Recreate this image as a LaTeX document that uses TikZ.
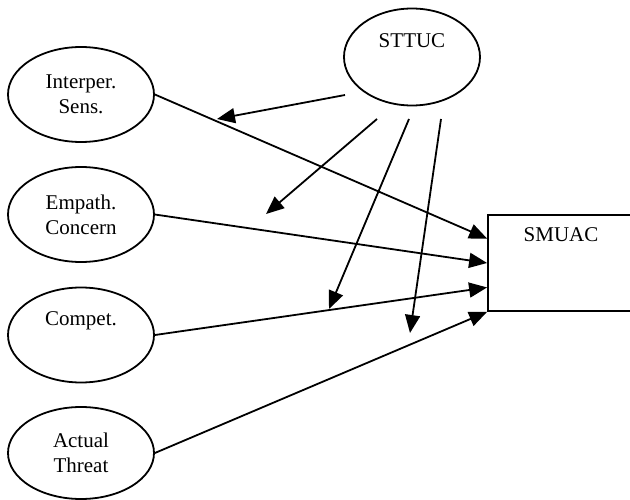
\documentclass[tikz,border=0pt]{standalone}
\usepackage{fontspec}
\setmainfont{Liberation Serif}
\usetikzlibrary{positioning,arrows.meta,calc,shapes.geometric}
\tikzstyle{pathDiagram} = [x = 1pt, y = -1pt, line width = 1.8pt]
\tikzstyle{factorStyle} = [draw, ellipse, minimum width = 146pt, minimum height = 95pt, inner sep = 0pt, align = center, font = \fontsize{21}{25}\selectfont]
\tikzstyle{outcomeStyle} = [draw, rectangle, minimum width = 146pt, minimum height = 96pt, inner sep = 0pt, align = center, font = \fontsize{21}{25}\selectfont]
\tikzstyle{pathArrow} = [-{Triangle[length = 18pt, width = 15pt]}]
\newcommand{\sideTarget}[2]{\coordinate (#1) at ($(smuac.north west)!#2!(smuac.south west)$);}
\newcommand{\moderatorArrow}[2]{\draw [pathArrow] (#1) -- (#2);}

\begin{document}
\begin{tikzpicture}[pathDiagram]
  \useasboundingbox (0,0) rectangle (630,500);
  \clip (0,0) rectangle (630,500);
  % predictors
  \node [factorStyle] (interper) at (81,94.5) {Interper.\\Sens.};
  \node [factorStyle] (empath) at (81,214.5) {Empath.\\Concern};
  \node [factorStyle] (compet) at (81,335) {Compet.\\\strut};
  \node [factorStyle, minimum height = 92pt] (threat) at (81,453) {Actual\\Threat};
  % moderator and outcome
  \node [factorStyle, minimum width = 136pt, minimum height = 97pt] (sttuc) at (412,57) {STTUC\\\strut};
  \node [outcomeStyle] (smuac) at (561,263) {SMUAC\\\strut\\\strut};
  \sideTarget{inA}{0.25}
  \sideTarget{inB}{0.5}
  \sideTarget{inC}{0.75}
  \sideTarget{inD}{1}
  \draw [pathArrow] (interper.east) -- (inA);
  \draw [pathArrow] (empath.east) -- (inB);
  \draw [pathArrow] (compet.east) -- (inC);
  \draw [pathArrow] (threat.east) -- (inD);
  % moderating paths
  \coordinate (fromA) at (345,95);
  \coordinate (fromB) at (377,119);
  \coordinate (fromC) at (409,119);
  \coordinate (fromD) at (441,119);
  \coordinate (toA) at (217,119);
  \coordinate (toB) at (266,214);
  \coordinate (toC) at (329,309);
  \coordinate (toD) at (410,333);
  \moderatorArrow{fromA}{toA}
  \moderatorArrow{fromB}{toB}
  \moderatorArrow{fromC}{toC}
  \moderatorArrow{fromD}{toD}
\end{tikzpicture}
\end{document}
